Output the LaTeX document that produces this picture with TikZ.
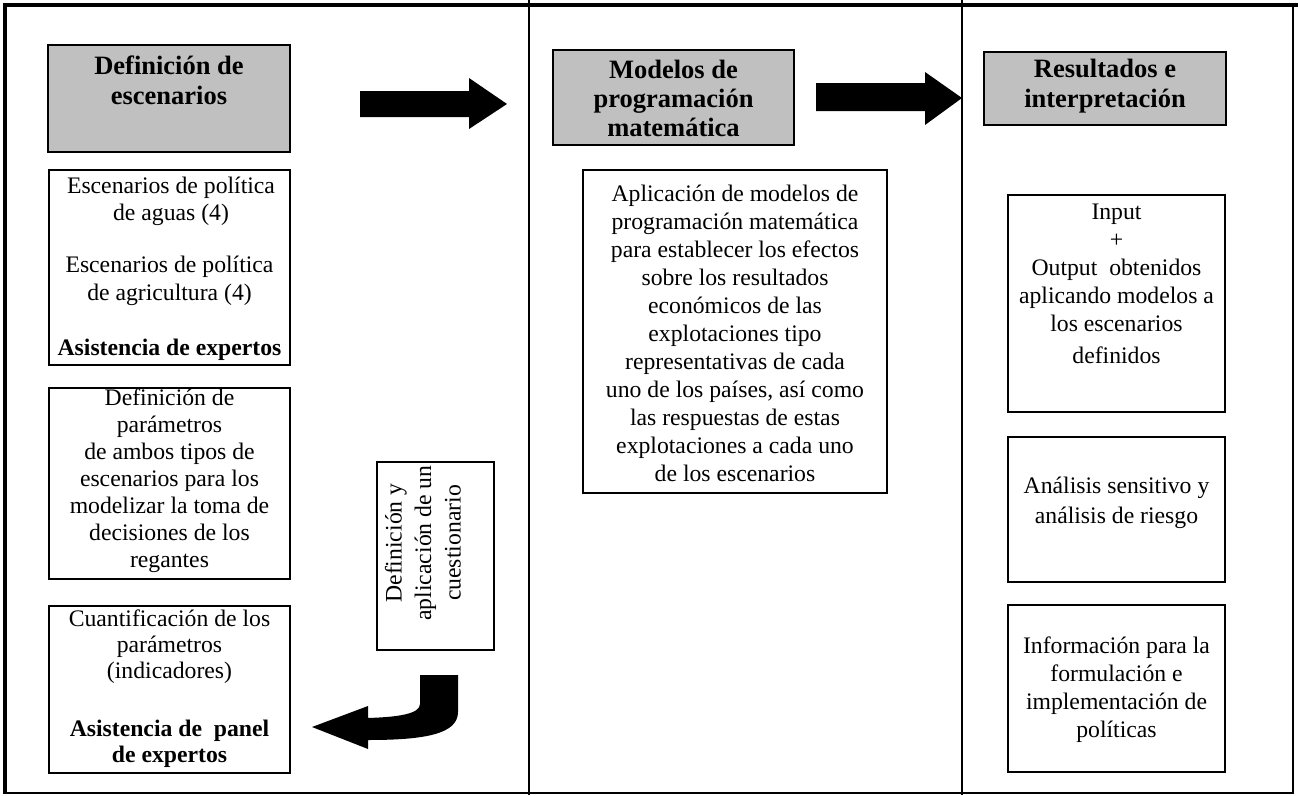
\documentclass[tikz,border=0pt]{standalone}
\usepackage{fontspec}
\setmainfont{Liberation Serif}
\definecolor{hgray}{RGB}{192,192,192}
\begin{document}
\begin{tikzpicture}[x=1pt,y=-1pt,
  box/.style={draw, line width=1.6pt, inner sep=0pt},
  hdr/.style={box, fill=hgray},
  txt/.style={align=center, font=\fontsize{23.7}{27.5}\selectfont, inner sep=0pt},
  mtxt/.style={align=center, font=\fontsize{23.7}{28}\selectfont, inner sep=0pt},
  htxt/.style={align=center, font=\fontsize{26.5}{30}\selectfont\bfseries, inner sep=0pt},
  blk/.style={fill=black, draw=none}]
\useasboundingbox (0,0) rectangle (1298,795);
% frame
\draw[line width=3.5pt] (3,5) -- (1298,5);
\draw[line width=3.5pt] (5,4) -- (5,794);
\draw[line width=2pt] (4,793) -- (1294,793);
\draw[line width=2.5pt] (1293,4) -- (1293,794);
\draw[line width=1.5pt] (529,0) -- (529,795);
\draw[line width=1.5pt] (962,0) -- (962,795);
% headers
\node[hdr, minimum width=242pt, minimum height=107pt] (h1) at (169,98.5) {};
\node[htxt] (h1t) at (169,80) {Definición de\\escenarios};
\node[hdr, minimum width=241pt, minimum height=95pt] (h2) at (673.5,97.5) {};
\node[htxt, font=\fontsize{26.5}{29}\selectfont\bfseries] (h2t) at (673.5,98) {Modelos de\\programación\\matemática};
\node[hdr, minimum width=242pt, minimum height=73pt] (h3) at (1105,88.5) {};
\node[htxt] (h3t) at (1105,86) {Resultados e\\interpretación};
% block arrows
\fill (360,91) -- (469,91) -- (469,78) -- (507,104) -- (469,129) -- (469,117) -- (360,117) -- cycle;
\fill (816,83) -- (925,83) -- (925,72) -- (962,98) -- (925,125) -- (925,111) -- (816,111) -- cycle;
% left column
\node[box, minimum width=241pt, minimum height=195pt] (l1) at (169.5,267.5) {};
\node[txt] (l1a) at (171,201.5) {Escenarios de política\\de aguas (4)};
\node[txt] (l1b) at (169.5,281) {Escenarios de política\\de agricultura (4)};
\node[txt, font=\fontsize{23.7}{27.5}\selectfont\bfseries] (l1c) at (169.5,350) {Asistencia de expertos};
\node[box, minimum width=241pt, minimum height=191pt] (l2) at (169.5,483.5) {};
\node[txt, font=\fontsize{23.7}{27}\selectfont] (l2t) at (169.5,481) {Definición de\\parámetros\\de ambos tipos de\\escenarios para los\\modelizar la toma de\\decisiones de los\\regantes};
\node[box, minimum width=241pt, minimum height=167pt] (l3) at (169.5,689.5) {};
\node[txt, font=\fontsize{23.7}{26}\selectfont] (l3a) at (169.5,647) {Cuantificación de los\\parámetros\\(indicadores)};
\node[txt, font=\fontsize{23.7}{26}\selectfont\bfseries] (l3b) at (169.5,744) {Asistencia de~ panel\\de expertos};
\node[box, minimum width=117pt, minimum height=188pt] (q) at (435.5,556) {};
\node[txt, font=\fontsize{23.7}{29.5}\selectfont, rotate=90] (qt) at (423,543) {Definición y\\aplicación de un\\cuestionario};
% curved arrow
\fill (420,675) -- (458,675) -- (458,712) .. controls (458,734) and (425,740) .. (368,740)
  -- (368,749) -- (312,727) -- (368,706) -- (368,718)
  .. controls (398,717) and (420,714) .. (420,704) -- cycle;
% middle
\node[box, minimum width=304pt, minimum height=323pt] (m) at (735,331.5) {};
\node[mtxt] (mt) at (735,333) {Aplicación de modelos de\\programación matemática\\para establecer los efectos\\sobre los resultados\\económicos de las\\explotaciones tipo\\representativas de cada\\uno de los países, así como\\las respuestas de estas\\explotaciones a cada uno\\de los escenarios};
% right
\node[box, minimum width=217pt, minimum height=217pt] (r1) at (1116.5,303.5) {};
\node[mtxt] (r1t) at (1116.5,284) {Input\\+\\Output~ obtenidos\\aplicando modelos a\\los escenarios\\[4pt]definidos};
\node[box, minimum width=217pt, minimum height=145pt] (r2) at (1116.5,509.5) {};
\node[mtxt, font=\fontsize{23.7}{30}\selectfont] (r2t) at (1116.5,503) {Análisis sensitivo y\\análisis de riesgo};
\node[box, minimum width=217pt, minimum height=167pt] (r3) at (1116.5,688.5) {};
\node[mtxt] (r3t) at (1116.5,690) {Información para la\\formulación e\\implementación de\\políticas};
\end{tikzpicture}
\end{document}
